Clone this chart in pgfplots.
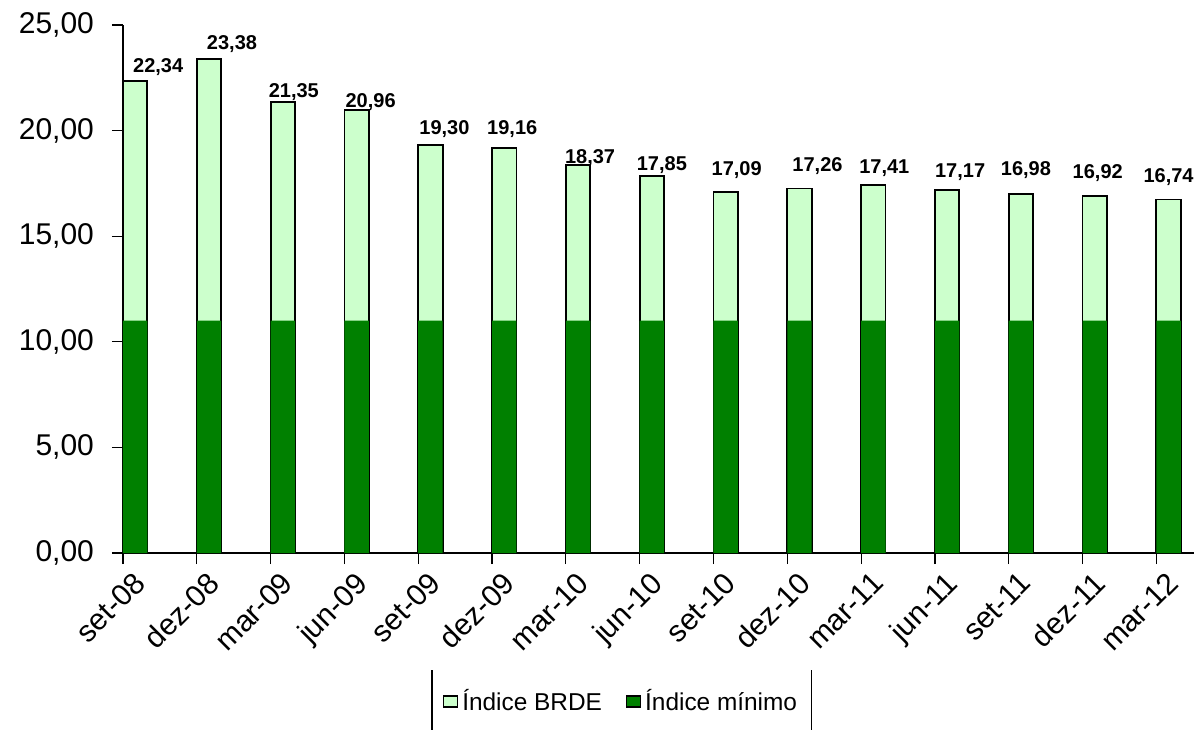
\documentclass[border=0pt]{standalone}
\usepackage{fontspec}
\setmainfont{Liberation Sans}
\usepackage{pgfplots}
\usepackage{pgfplotstable}
\pgfplotsset{compat=1.18}

\definecolor{brde}{HTML}{CCFFCC}
\definecolor{minimo}{HTML}{008000}

% quarter, Indice BRDE, Indice minimo, label offsets (pt)
\pgfplotstableread{
x  lbl     brde   minimo  dx    dy
0  set-08  22.34  11      11.5  4.5
1  dez-08  23.38  11      11.5  5
2  mar-09  21.35  11      5.5   2.5
3  jun-09  20.96  11      7     1.5
4  set-09  19.30  11      7     5.5
5  dez-09  19.16  11      4     7
6  mar-10  18.37  11      6     1
7  jun-10  17.85  11      5     3
8  set-10  17.09  11      5.5   8.5
9  dez-10  17.26  11      9     8.5
10 mar-11  17.41  11      5.5   6
11 jun-11  17.17  11      6.5   6.5
12 set-11  16.98  11      2.5   9.5
13 dez-11  16.92  11      1.5   8.5
14 mar-12  16.74  11      0     8.5
}\data

\begin{document}
\begin{tikzpicture}
\begin{axis}[
  at={(61.5pt,88.5pt)}, anchor=south west,
  scale only axis, width=535.5pt, height=264pt,
  xmin=0, xmax=14.51, ymin=0, ymax=25,
  axis x line=bottom, axis y line=left,
  axis line style={-, line width=0.6pt, black},
  tick align=outside, major tick length=5.5pt,
  tick style={black, line width=0.6pt},
  xtick={0,...,14},
  xticklabels from table={\data}{lbl},
  x tick label style={rotate=45, anchor=north east, xshift=4.5pt, yshift=-2pt,
    font=\fontsize{15}{15}\selectfont},
  ytick={0,5,...,25},
  yticklabel={\pgfmathprintnumber[fixed,fixed zerofill,precision=2,use comma,assume math mode=true]{\tick}},
  y tick label style={font=\fontsize{15}{15}\selectfont, xshift=-5.5pt},
  ybar, bar width=12.2pt, bar shift=6.1pt,
  clip=false,
  legend columns=2,
  legend style={at={(0.466,-0.282)}, anchor=center, draw=none, fill=none,
    font=\fontsize{12.2}{13}\selectfont,
    /tikz/every even column/.append style={column sep=10pt}},
]
\addplot[fill=brde, draw=black, line width=0.9pt,
  legend image code/.code={\draw[fill=brde, draw=black, line width=0.6pt] (0pt,-2.5pt) rectangle (7pt,3pt);},
  visualization depends on={\thisrow{dx} \as \dx},
  visualization depends on={\thisrow{dy} \as \dy},
  nodes near coords={\pgfmathprintnumber[fixed,fixed zerofill,precision=2,use comma,assume math mode=true]{\pgfplotspointmeta}},
  every node near coord/.append style={font=\bfseries\fontsize{10}{10}\selectfont,
    anchor=base, inner sep=0pt, xshift=\dx pt, yshift=\dy pt}]
  table[x=x, y=brde] {\data};
\addlegendentry{Índice BRDE}
\addplot[fill=minimo, draw=none,
  legend image code/.code={\draw[fill=minimo, draw=black, line width=0.6pt] (0pt,-2.5pt) rectangle (7pt,3pt);}]
  table[x=x, y=minimo] {\data};
\addlegendentry{Índice mínimo}
% side rules of the legend frame
\draw[line width=0.6pt] (rel axis cs:0.2885,-0.2216) -- (rel axis cs:0.2885,-0.335);
\draw[line width=0.6pt] (rel axis cs:0.643,-0.2216) -- (rel axis cs:0.643,-0.335);
\end{axis}
\pgfresetboundingbox
\useasboundingbox (0,0) rectangle (597pt,365pt);
\end{tikzpicture}
\end{document}
